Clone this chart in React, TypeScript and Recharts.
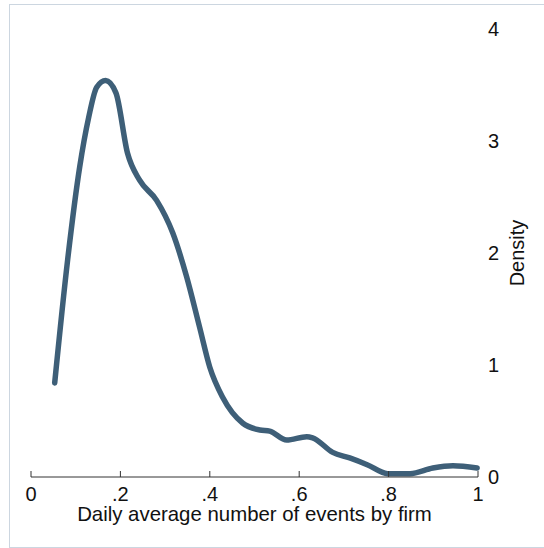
import React from 'react';
import { LineChart, Line, XAxis, YAxis } from 'recharts';

const xValues = [
  0.053, 0.082, 0.109, 0.129, 0.147, 0.167, 0.19, 0.216, 0.243, 0.281,
  0.317, 0.348, 0.377, 0.4, 0.429, 0.474, 0.512, 0.534, 0.572, 0.617,
  0.63, 0.675, 0.713, 0.752, 0.798, 0.848, 0.899, 0.944, 0.998,
];
const densityValues = [
  0.84, 1.94, 2.77, 3.21, 3.48, 3.54, 3.43, 2.89, 2.65, 2.47,
  2.18, 1.79, 1.34, 0.98, 0.71, 0.48, 0.42, 0.41, 0.33, 0.36,
  0.35, 0.22, 0.17, 0.11, 0.03, 0.03, 0.08, 0.1, 0.08,
];
const xTicks = [0, 0.2, 0.4, 0.6, 0.8, 1];
const xTickLabels = ['0', '.2', '.4', '.6', '.8', '1'];
const yTicks = [0, 1, 2, 3, 4];
const xTitle = 'Daily average number of events by firm';
const yTitle = 'Density';

const data = xValues.map((x, i) => ({ x, d: densityValues[i] }));

const FONT = '"Liberation Sans", Arial, Helvetica, sans-serif';

const XTick = (props: any) => {
  const { x, y, payload } = props;
  const idx = xTicks.findIndex((t) => Math.abs(t - payload.value) < 1e-9);
  const label = idx >= 0 ? xTickLabels[idx] : String(payload.value);
  return (
    <g>
      <line x1={x} x2={x} y1={y} y2={y - 6} stroke="#333" strokeWidth={1} />
      <text x={x} y={y + 24} textAnchor="middle" fontSize={20} fill="#111" fontFamily={FONT}>
        {label}
      </text>
    </g>
  );
};

const XTitle = (props: any) => {
  const vb = props.viewBox;
  return (
    <text x={vb.x + vb.width / 2} y={vb.y + 44} textAnchor="middle" fontSize={20.4} fill="#111" fontFamily={FONT}>
      {xTitle}
    </text>
  );
};

const YTitle = (props: any) => {
  const vb = props.viewBox;
  const cx = vb.x + 39;
  const cy = vb.y + vb.height / 2;
  return (
    <text
      x={cx}
      y={cy}
      transform={`rotate(-90, ${cx}, ${cy})`}
      textAnchor="middle"
      dominantBaseline="central"
      fontSize={20}
      fill="#111"
      fontFamily={FONT}
    >
      {yTitle}
    </text>
  );
};

export default function App() {
  return (
    <div style={{ position: 'absolute', left: 0, top: 0, width: 544, height: 548, background: '#fff' }}>
      <div
        style={{
          position: 'absolute',
          left: 9,
          top: 4,
          width: 535,
          height: 544,
          boxSizing: 'border-box',
          borderLeft: '1px solid #ccd6e0',
          borderTop: '1px solid #ccd6e0',
          borderBottom: '1px solid #ccd6e0',
        }}
      />
      <div style={{ position: 'absolute', left: 0, top: 0 }}>
        <LineChart width={544} height={548} data={data} margin={{ top: 29, right: 0, left: 31, bottom: 0 }}>
          <XAxis
            dataKey="x"
            type="number"
            domain={[0, 1]}
            ticks={xTicks}
            height={71}
            tickSize={0}
            tickMargin={0}
            tickLine={false}
            axisLine={{ stroke: '#333', strokeWidth: 1 }}
            tick={<XTick />}
            interval={0}
            label={<XTitle />}
          />
          <YAxis
            orientation="right"
            type="number"
            domain={[0, 4]}
            ticks={yTicks}
            width={66}
            axisLine={false}
            tickLine={false}
            tickSize={0}
            tickMargin={10}
            interval={0}
            tick={{ fontSize: 20, fill: '#111', fontFamily: FONT }}
            label={<YTitle />}
          />
          <Line
            type="monotone"
            dataKey="d"
            stroke="#3e5f78"
            strokeWidth={5.5}
            dot={false}
            strokeLinejoin="round"
            strokeLinecap="round"
            isAnimationActive={false}
          />
        </LineChart>
      </div>
    </div>
  );
}
